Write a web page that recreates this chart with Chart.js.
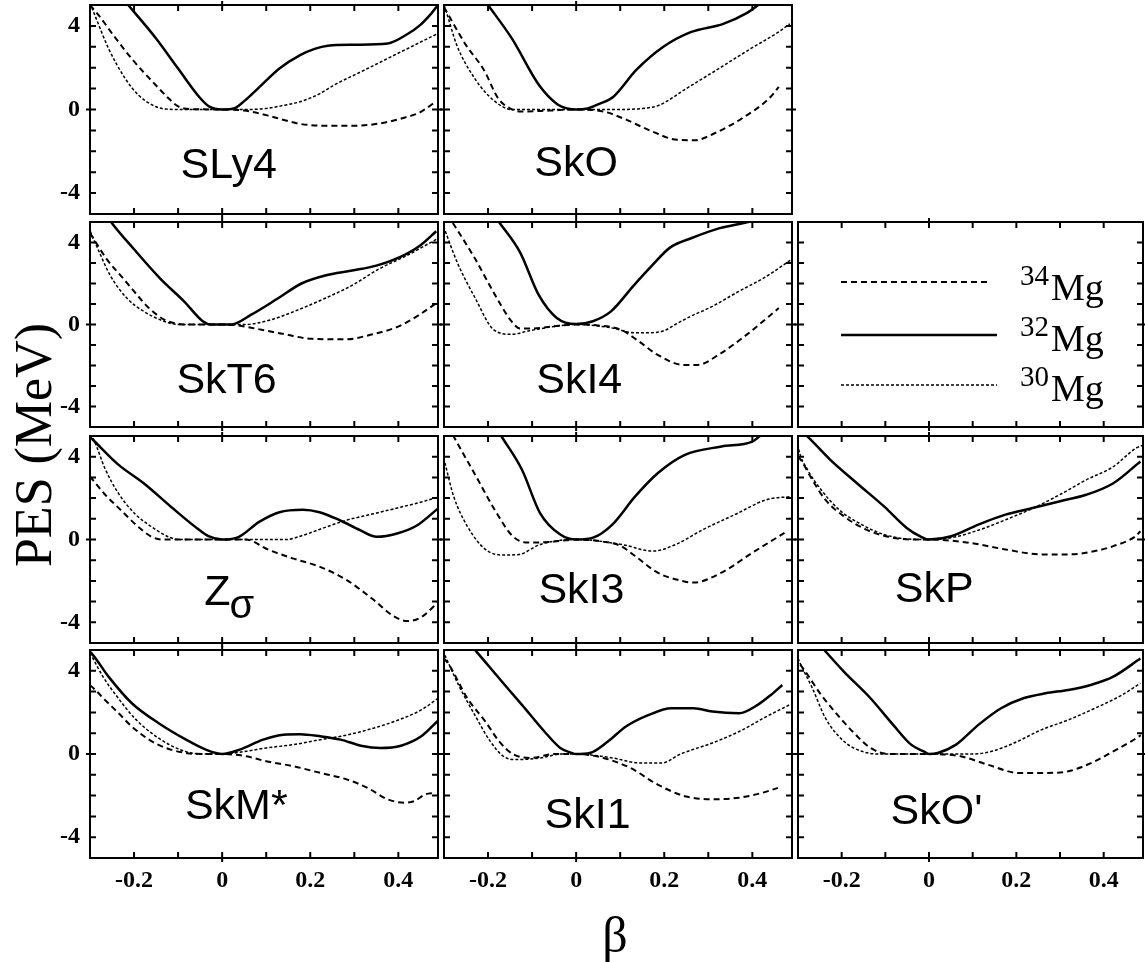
<!DOCTYPE html>
<html>
<head>
<meta charset="utf-8">
<script src="https://cdn.jsdelivr.net/npm/chart.js@4.4.1/dist/chart.umd.min.js"></script>
<style>
  body { margin: 0; background: #fff; }
  #page { position: relative; width: 1145px; height: 962px; overflow: hidden; background: #fff; }
  .panel { position: absolute; }
  #ytitle {
    position: absolute; left: 33px; top: 445px;
    transform: translate(-50%, -50%) rotate(-90deg);
    font: 52px "Liberation Serif", serif; white-space: nowrap; color: #000;
  }
  #xtitle {
    position: absolute; left: 615px; top: 935px;
    transform: translate(-50%, -50%);
    font: 50px "Liberation Serif", serif; color: #000;
  }
</style>
</head>
<body>
<div id="page">
  <div id="ytitle">PES (MeV)</div>
  <div id="xtitle">β</div>
</div>
<script>
// axis ranges and ticks
const X_MIN = -0.3, X_MAX = 0.49, Y_MIN = -5, Y_MAX = 5;
const X_TICKS = [-0.2, 0, 0.2, 0.4];
const X_TICK_LABELS = ['-0.2', '0', '0.2', '0.4'];
const Y_TICKS = [-4, 0, 4];
const Y_TICK_LABELS = ['-4', '0', '4'];
const X_MINOR = [-0.2, -0.1, 0, 0.1, 0.2, 0.3, 0.4];
const Y_MINOR = [-4, -3, -2, -1, 0, 1, 2, 3, 4];
const LEGEND_MASS = ['34', '32', '30'];

// [beta, PES]
const SLY4_34 = [[-0.3,5.0],[-0.28,4.5],[-0.245,3.5],[-0.2,2.3],[-0.15,1.15],[-0.12,0.5],[-0.1,0.15],[-0.07,0.02],[0,0],[0.05,-0.05],[0.1,-0.27],[0.14,-0.5],[0.18,-0.7],[0.25,-0.78],[0.3,-0.78],[0.37,-0.62],[0.42,-0.35],[0.445,-0.18],[0.47,0.15],[0.48,0.3]];
const SLY4_32 = [[-0.22,5.17],[-0.15,3.4],[-0.1,1.96],[-0.05,0.55],[-0.03,0.15],[0,0],[0.03,0.08],[0.05,0.4],[0.085,1.08],[0.13,1.96],[0.177,2.6],[0.21,2.9],[0.24,3.05],[0.3,3.1],[0.376,3.16],[0.42,3.6],[0.45,4.05],[0.475,4.6],[0.49,5.0]];
const SLY4_30 = [[-0.3,5.1],[-0.285,4.3],[-0.258,2.92],[-0.22,1.48],[-0.19,0.69],[-0.15,0.13],[-0.128,0.02],[-0.1,0],[0,0],[0.06,0],[0.1,0.05],[0.14,0.2],[0.177,0.37],[0.223,0.77],[0.253,1.16],[0.302,1.67],[0.33,1.96],[0.406,2.76],[0.49,3.64]];

const SKO_34 = [[-0.3,4.9],[-0.292,4.6],[-0.25,3.08],[-0.209,1.88],[-0.177,0.53],[-0.15,0.05],[-0.125,-0.1],[-0.06,-0.05],[0,0],[0.063,-0.1],[0.115,-0.5],[0.167,-1.0],[0.23,-1.45],[0.27,-1.47],[0.313,-1.15],[0.376,-0.43],[0.438,0.53],[0.46,1.08]];
const SKO_32 = [[-0.2,5.0],[-0.146,3.4],[-0.084,1.16],[-0.042,0.24],[-0.02,0.05],[0,0],[0.026,0.05],[0.05,0.25],[0.084,0.6],[0.136,1.88],[0.198,3.0],[0.26,3.7],[0.334,4.1],[0.386,4.6],[0.418,5.07]];
const SKO_30 = [[-0.3,5.0],[-0.297,4.83],[-0.271,3.08],[-0.23,1.48],[-0.188,0.45],[-0.146,0],[0,0],[0.1,0],[0.15,0.05],[0.188,0.2],[0.25,1.0],[0.324,1.96],[0.397,2.92],[0.459,3.7],[0.485,4.1]];

const SKT6_34 = [[-0.3,4.46],[-0.262,3.19],[-0.224,2.23],[-0.193,1.44],[-0.17,0.88],[-0.132,0.24],[-0.1,0.03],[-0.086,0],[0,0],[0.03,-0.03],[0.066,-0.16],[0.143,-0.48],[0.204,-0.7],[0.28,-0.72],[0.341,-0.48],[0.402,-0.08],[0.448,0.48],[0.486,1.04]];
const SKT6_32 = [[-0.255,5.1],[-0.25,4.94],[-0.2,3.67],[-0.14,2.23],[-0.086,1.12],[-0.044,0.16],[-0.025,0],[0.02,0],[0.066,0.48],[0.127,1.28],[0.18,2.0],[0.234,2.39],[0.295,2.63],[0.35,2.87],[0.402,3.27],[0.448,3.83],[0.486,4.55]];
const SKT6_30 = [[-0.304,4.78],[-0.285,3.83],[-0.254,2.39],[-0.216,1.28],[-0.178,0.64],[-0.132,0.16],[-0.1,0],[0,0],[0.05,0],[0.112,0.24],[0.173,0.72],[0.234,1.28],[0.295,1.91],[0.356,2.71],[0.418,3.35],[0.486,4.15]];

const SKI4_34 = [[-0.28,4.95],[-0.27,4.62],[-0.229,3.19],[-0.188,1.59],[-0.147,0.16],[-0.127,-0.2],[-0.1,-0.2],[-0.05,-0.08],[0,0],[0.05,-0.05],[0.1,-0.24],[0.141,-0.8],[0.182,-1.44],[0.244,-1.97],[0.275,-1.97],[0.326,-1.44],[0.388,-0.48],[0.46,0.8]];
const SKI4_32 = [[-0.175,5.0],[-0.127,3.51],[-0.085,1.44],[-0.044,0.32],[0,0.02],[0.038,0.16],[0.079,0.64],[0.131,1.91],[0.172,2.87],[0.213,3.75],[0.264,4.23],[0.326,4.7],[0.378,4.94],[0.4,5.05]];
const SKI4_30 = [[-0.301,4.78],[-0.27,3.03],[-0.229,1.28],[-0.188,-0.24],[-0.147,-0.48],[-0.106,-0.3],[-0.044,-0.08],[0,0],[0.079,-0.16],[0.131,-0.4],[0.17,-0.4],[0.2,-0.3],[0.225,0],[0.26,0.4],[0.306,0.85],[0.367,1.59],[0.429,2.31],[0.49,3.19]];

const ZS_34 = [[-0.3,3.05],[-0.267,2.2],[-0.229,1.4],[-0.19,0.6],[-0.16,0.13],[-0.137,0],[0,0],[0.053,0],[0.107,-0.51],[0.16,-0.91],[0.221,-1.31],[0.282,-1.95],[0.343,-2.9],[0.389,-3.7],[0.42,-3.94],[0.45,-3.78],[0.489,-3.06]];
const ZS_32 = [[-0.3,4.95],[-0.294,4.83],[-0.237,3.64],[-0.176,2.68],[-0.115,1.56],[-0.061,0.61],[-0.031,0.16],[0,0],[0.038,0.13],[0.084,0.85],[0.13,1.32],[0.183,1.44],[0.221,1.32],[0.267,0.93],[0.313,0.45],[0.351,0.13],[0.397,0.29],[0.443,0.69],[0.489,1.48]];
const ZS_30 = [[-0.3,5.1],[-0.29,4.75],[-0.267,3.48],[-0.237,2.28],[-0.198,1.24],[-0.16,0.61],[-0.122,0.13],[-0.1,0],[0,0],[0.145,0],[0.183,0.2],[0.237,0.61],[0.282,0.93],[0.343,1.24],[0.405,1.56],[0.45,1.8],[0.489,2.04]];

const SKI3_34 = [[-0.28,5.05],[-0.226,3.0],[-0.185,1.44],[-0.144,0.16],[-0.11,-0.15],[-0.05,-0.1],[0,0],[0.06,-0.1],[0.1,-0.3],[0.134,-0.8],[0.185,-1.6],[0.24,-2.0],[0.267,-2.08],[0.33,-1.6],[0.4,-0.64],[0.473,0.32]];
const SKI3_32 = [[-0.17,5.0],[-0.123,3.37],[-0.082,1.28],[-0.036,0.24],[0,0],[0.04,0.1],[0.082,0.72],[0.134,2.08],[0.185,3.2],[0.247,4.09],[0.33,4.49],[0.4,4.73],[0.42,5.05]];
const SKI3_30 = [[-0.298,3.7],[-0.278,2.08],[-0.247,0.64],[-0.206,-0.48],[-0.165,-0.75],[-0.129,-0.72],[-0.082,-0.24],[0,0],[0.103,-0.24],[0.175,-0.56],[0.226,-0.24],[0.288,0.48],[0.36,1.2],[0.432,1.92],[0.489,2.08]];

const SKP_34 = [[-0.3,4.0],[-0.293,3.83],[-0.267,2.87],[-0.237,1.91],[-0.195,1.12],[-0.144,0.48],[-0.093,0.13],[-0.041,0],[0,0],[0.093,-0.16],[0.175,-0.48],[0.257,-0.72],[0.319,-0.72],[0.38,-0.56],[0.422,-0.32],[0.473,0.16],[0.484,0.4]];
const SKP_32 = [[-0.285,5.1],[-0.278,4.97],[-0.226,3.85],[-0.165,2.72],[-0.103,1.6],[-0.051,0.56],[-0.021,0.16],[0,0],[0.051,0.16],[0.113,0.72],[0.175,1.2],[0.237,1.52],[0.298,1.84],[0.36,2.16],[0.422,2.72],[0.484,3.77]];
const SKP_30 = [[-0.3,4.6],[-0.298,4.33],[-0.278,3.37],[-0.247,2.4],[-0.206,1.44],[-0.154,0.72],[-0.103,0.24],[-0.051,0.03],[0,0],[0.05,0.08],[0.113,0.45],[0.175,0.95],[0.237,1.5],[0.298,2.15],[0.36,2.88],[0.422,3.52],[0.473,4.4],[0.489,4.55]];

const SKMS_34 = [[-0.3,3.3],[-0.292,3.16],[-0.266,2.6],[-0.235,1.96],[-0.205,1.32],[-0.166,0.69],[-0.128,0.29],[-0.082,0.05],[-0.04,0],[0,0],[0.055,-0.11],[0.1,-0.35],[0.162,-0.59],[0.223,-0.91],[0.284,-1.23],[0.33,-1.63],[0.376,-2.18],[0.414,-2.34],[0.437,-2.26],[0.46,-1.95],[0.482,-1.87]];
const SKMS_32 = [[-0.3,4.9],[-0.296,4.83],[-0.258,3.72],[-0.205,2.44],[-0.144,1.48],[-0.082,0.69],[-0.037,0.21],[0,0],[0.04,0.21],[0.093,0.69],[0.139,0.93],[0.177,0.95],[0.223,0.85],[0.269,0.69],[0.315,0.4],[0.36,0.29],[0.406,0.4],[0.452,0.85],[0.49,1.6]];
const SKMS_30 = [[-0.3,4.85],[-0.296,4.7],[-0.27,3.7],[-0.24,2.8],[-0.2,1.75],[-0.16,1.0],[-0.12,0.45],[-0.08,0.1],[-0.04,0],[0,0],[0.055,0.13],[0.1,0.29],[0.162,0.45],[0.223,0.69],[0.269,0.85],[0.33,1.16],[0.39,1.56],[0.452,2.12],[0.49,2.68]];

const SKI1_34 = [[-0.3,4.6],[-0.288,4.27],[-0.247,2.68],[-0.206,1.56],[-0.175,0.61],[-0.144,0],[-0.103,-0.19],[-0.05,0],[0,0],[0.062,-0.19],[0.123,-0.67],[0.185,-1.47],[0.247,-2.03],[0.309,-2.18],[0.37,-2.1],[0.422,-1.87],[0.458,-1.63]];
const SKI1_32 = [[-0.232,5.05],[-0.226,4.91],[-0.175,3.64],[-0.123,2.36],[-0.072,1.08],[-0.036,0.29],[-0.01,0.05],[0,0],[0.031,0.05],[0.072,0.6],[0.113,1.32],[0.165,1.88],[0.216,2.2],[0.267,2.2],[0.309,2.04],[0.37,1.96],[0.412,2.36],[0.442,2.84],[0.468,3.32]];
const SKI1_30 = [[-0.298,4.75],[-0.267,3.32],[-0.226,1.72],[-0.195,0.61],[-0.165,-0.11],[-0.134,-0.27],[-0.082,-0.19],[-0.031,0],[0,0],[0.082,-0.19],[0.144,-0.43],[0.195,-0.43],[0.237,0],[0.309,0.53],[0.37,1.08],[0.432,1.8],[0.484,2.36]];

const SKOP_34 = [[-0.295,4.3],[-0.283,3.96],[-0.247,2.84],[-0.216,2.04],[-0.175,1.08],[-0.134,0.29],[-0.093,0],[0,0],[0.072,-0.11],[0.134,-0.51],[0.206,-0.91],[0.267,-0.91],[0.319,-0.83],[0.38,-0.35],[0.422,0.13],[0.463,0.61],[0.485,0.9]];
const SKOP_32 = [[-0.24,5.0],[-0.195,3.96],[-0.134,2.68],[-0.082,1.4],[-0.041,0.45],[-0.01,0.1],[0,0],[0.02,0.05],[0.062,0.45],[0.113,1.4],[0.165,2.2],[0.216,2.68],[0.267,2.92],[0.319,3.08],[0.37,3.32],[0.422,3.72],[0.484,4.59]];
const SKOP_30 = [[-0.3,4.6],[-0.293,4.27],[-0.267,3.16],[-0.237,1.72],[-0.195,0.61],[-0.154,0.13],[-0.113,0],[0,0],[0.1,0],[0.144,0.13],[0.195,0.53],[0.257,1.16],[0.319,1.64],[0.38,2.2],[0.442,2.84],[0.484,3.4]];

// layout of the grid (panel boxes in page pixels)
const COLS = [[90, 438], [444, 792], [798, 1143]];
const ROWS = [[5, 214], [222, 427], [436, 643], [650, 858]];
const PAD = 4;
const XAXIS_H = 50;
const TICK_LEN = 6;

const SERIES = [
  { key: 'mg34', width: 2, dash: [6, 4] },
  { key: 'mg32', width: 2.5, dash: [] },
  { key: 'mg30', width: 1.5, dash: [3, 2] },
];

const panels = [
  { label: 'SLy4', row: 0, col: 0, at: [0.015, -2.7], mg34: SLY4_34, mg32: SLY4_32, mg30: SLY4_30 },
  { label: 'SkO', row: 0, col: 1, at: [0.0, -2.6], mg34: SKO_34, mg32: SKO_32, mg30: SKO_30 },
  { label: 'SkT6', row: 1, col: 0, at: [0.01, -2.75], mg34: SKT6_34, mg32: SKT6_32, mg30: SKT6_30 },
  { label: 'SkI4', row: 1, col: 1, at: [0.007, -2.75], mg34: SKI4_34, mg32: SKI4_32, mg30: SKI4_30 },
  { legend: true, row: 1, col: 2 },
  { label: 'Z', sub: 'σ', row: 2, col: 0, at: [0.017, -2.6], mg34: ZS_34, mg32: ZS_32, mg30: ZS_30 },
  { label: 'SkI3', row: 2, col: 1, at: [0.012, -2.5], mg34: SKI3_34, mg32: SKI3_32, mg30: SKI3_30 },
  { label: 'SkP', row: 2, col: 2, at: [0.012, -2.45], mg34: SKP_34, mg32: SKP_32, mg30: SKP_30 },
  { label: 'SkM*', row: 3, col: 0, at: [0.032, -2.55], mg34: SKMS_34, mg32: SKMS_32, mg30: SKMS_30 },
  { label: 'SkI1', row: 3, col: 1, at: [0.026, -3.0], mg34: SKI1_34, mg32: SKI1_32, mg30: SKI1_30 },
  { label: "SkO'", row: 3, col: 2, at: [0.017, -2.8], mg34: SKOP_34, mg32: SKOP_32, mg30: SKOP_30 },
];

const TICK_FONT = { family: '"Liberation Serif", serif', size: 24, weight: 'bold' };
const LABEL_FONT = '43px "Liberation Sans", Arial, sans-serif';

function framePlugin(p) {
  return {
    id: 'frame',
    afterDraw(chart) {
      const { ctx, chartArea: a, scales: { x, y } } = chart;
      ctx.save();
      ctx.strokeStyle = '#000';
      ctx.fillStyle = '#000';
      ctx.setLineDash([]);

      // tick marks pointing inside the box
      ctx.lineWidth = 2;
      ctx.beginPath();
      X_MINOR.forEach(v => {
        const px = x.getPixelForValue(v);
        const ext = v === 0 ? 4 : 0;
        ctx.moveTo(px, a.top - ext); ctx.lineTo(px, a.top + TICK_LEN);
        ctx.moveTo(px, a.bottom + ext); ctx.lineTo(px, a.bottom - TICK_LEN);
      });
      Y_MINOR.forEach(v => {
        const py = y.getPixelForValue(v);
        const ext = v === 0 ? 4 : 0;
        ctx.moveTo(a.left - ext, py); ctx.lineTo(a.left + TICK_LEN, py);
        ctx.moveTo(a.right + ext, py); ctx.lineTo(a.right - TICK_LEN, py);
      });
      ctx.stroke();

      ctx.lineWidth = 2;
      ctx.strokeRect(a.left, a.top, a.right - a.left, a.bottom - a.top);

      if (p.label) {
        const cx = x.getPixelForValue(p.at[0]);
        const cy = y.getPixelForValue(p.at[1]);
        ctx.font = LABEL_FONT;
        ctx.textBaseline = 'middle';
        if (p.sub) {
          const w1 = ctx.measureText(p.label).width;
          ctx.font = '40px "Liberation Sans", Arial, sans-serif';
          const w2 = ctx.measureText(p.sub).width;
          const x0 = cx - (w1 + w2) / 2;
          ctx.textAlign = 'left';
          ctx.fillText(p.sub, x0 + w1 - 1, cy + 14);
          ctx.font = LABEL_FONT;
          ctx.fillText(p.label, x0, cy);
        } else {
          ctx.textAlign = 'center';
          ctx.fillText(p.label, cx, cy);
        }
      }

      if (p.legend) {
        const lineY = [60, 113, 163];
        const lineEnd = [193, 199, 199];
        const supBase = [63, 114, 164];
        const mgBase = [78, 129, 179];
        SERIES.forEach((s, i) => {
          ctx.lineWidth = s.width;
          ctx.setLineDash(s.dash);
          ctx.beginPath();
          ctx.moveTo(a.left + 43, a.top + lineY[i]);
          ctx.lineTo(a.left + lineEnd[i], a.top + lineY[i]);
          ctx.stroke();
          ctx.setLineDash([]);
          ctx.textAlign = 'left';
          ctx.textBaseline = 'alphabetic';
          ctx.font = '29px "Liberation Serif", serif';
          ctx.fillText(LEGEND_MASS[i], a.left + 222, a.top + supBase[i]);
          ctx.font = '38px "Liberation Serif", serif';
          ctx.fillText('Mg', a.left + 253, a.top + mgBase[i]);
        });
      }
      ctx.restore();
    }
  };
}

const page = document.getElementById('page');

function buildPanel(p) {
  const [l, r] = COLS[p.col];
  const [t, b] = ROWS[p.row];
  const first = p.col === 0;
  const last = p.row === 3;
  const left = first ? 0 : l - PAD;
  const top = t - PAD;
  const width = r + PAD - left;
  const height = (last ? b + XAXIS_H : b + PAD) - top;

  const box = document.createElement('div');
  box.className = 'panel';
  box.style.left = left + 'px';
  box.style.top = top + 'px';
  box.style.width = width + 'px';
  box.style.height = height + 'px';
  const canvas = document.createElement('canvas');
  box.appendChild(canvas);
  page.appendChild(box);

  const datasets = p.legend ? [] : SERIES.map(s => ({
    data: p[s.key].map(([bx, e]) => ({ x: bx, y: e })),
    borderColor: '#000',
    borderWidth: s.width,
    borderDash: s.dash,
    pointRadius: 0,
    fill: false,
    cubicInterpolationMode: 'monotone',
  }));

  new Chart(canvas, {
    type: 'line',
    data: { datasets },
    options: {
      responsive: true,
      maintainAspectRatio: false,
      animation: false,
      events: [],
      devicePixelRatio: 1,
      layout: { padding: { left: first ? 0 : PAD, right: PAD, top: PAD, bottom: last ? 0 : PAD } },
      plugins: { legend: { display: false }, tooltip: { enabled: false } },
      scales: {
        x: {
          type: 'linear', min: X_MIN, max: X_MAX,
          display: last,
          grid: { display: false, drawTicks: false },
          border: { display: false },
          afterBuildTicks: s => { s.ticks = X_TICKS.map(v => ({ value: v })); },
          afterFit: s => {
            if (last) s.height = XAXIS_H;
            s.paddingLeft = 0; s.paddingRight = 0;
          },
          ticks: {
            font: TICK_FONT, color: '#000', padding: 8, autoSkip: false, maxRotation: 0,
            callback: (v, i) => X_TICK_LABELS[i],
          },
        },
        y: {
          type: 'linear', min: Y_MIN, max: Y_MAX,
          display: first,
          grid: { display: false, drawTicks: false },
          border: { display: false },
          afterBuildTicks: s => { s.ticks = Y_TICKS.map(v => ({ value: v })); },
          afterFit: s => {
            if (first) s.width = COLS[0][0];
            s.paddingTop = 0; s.paddingBottom = 0;
          },
          ticks: {
            font: TICK_FONT, color: '#000', padding: 10, autoSkip: false,
            callback: (v, i) => Y_TICK_LABELS[i],
          },
        },
      },
    },
    plugins: [framePlugin(p)],
  });
}

panels.forEach(buildPanel);
</script>
</body>
</html>
